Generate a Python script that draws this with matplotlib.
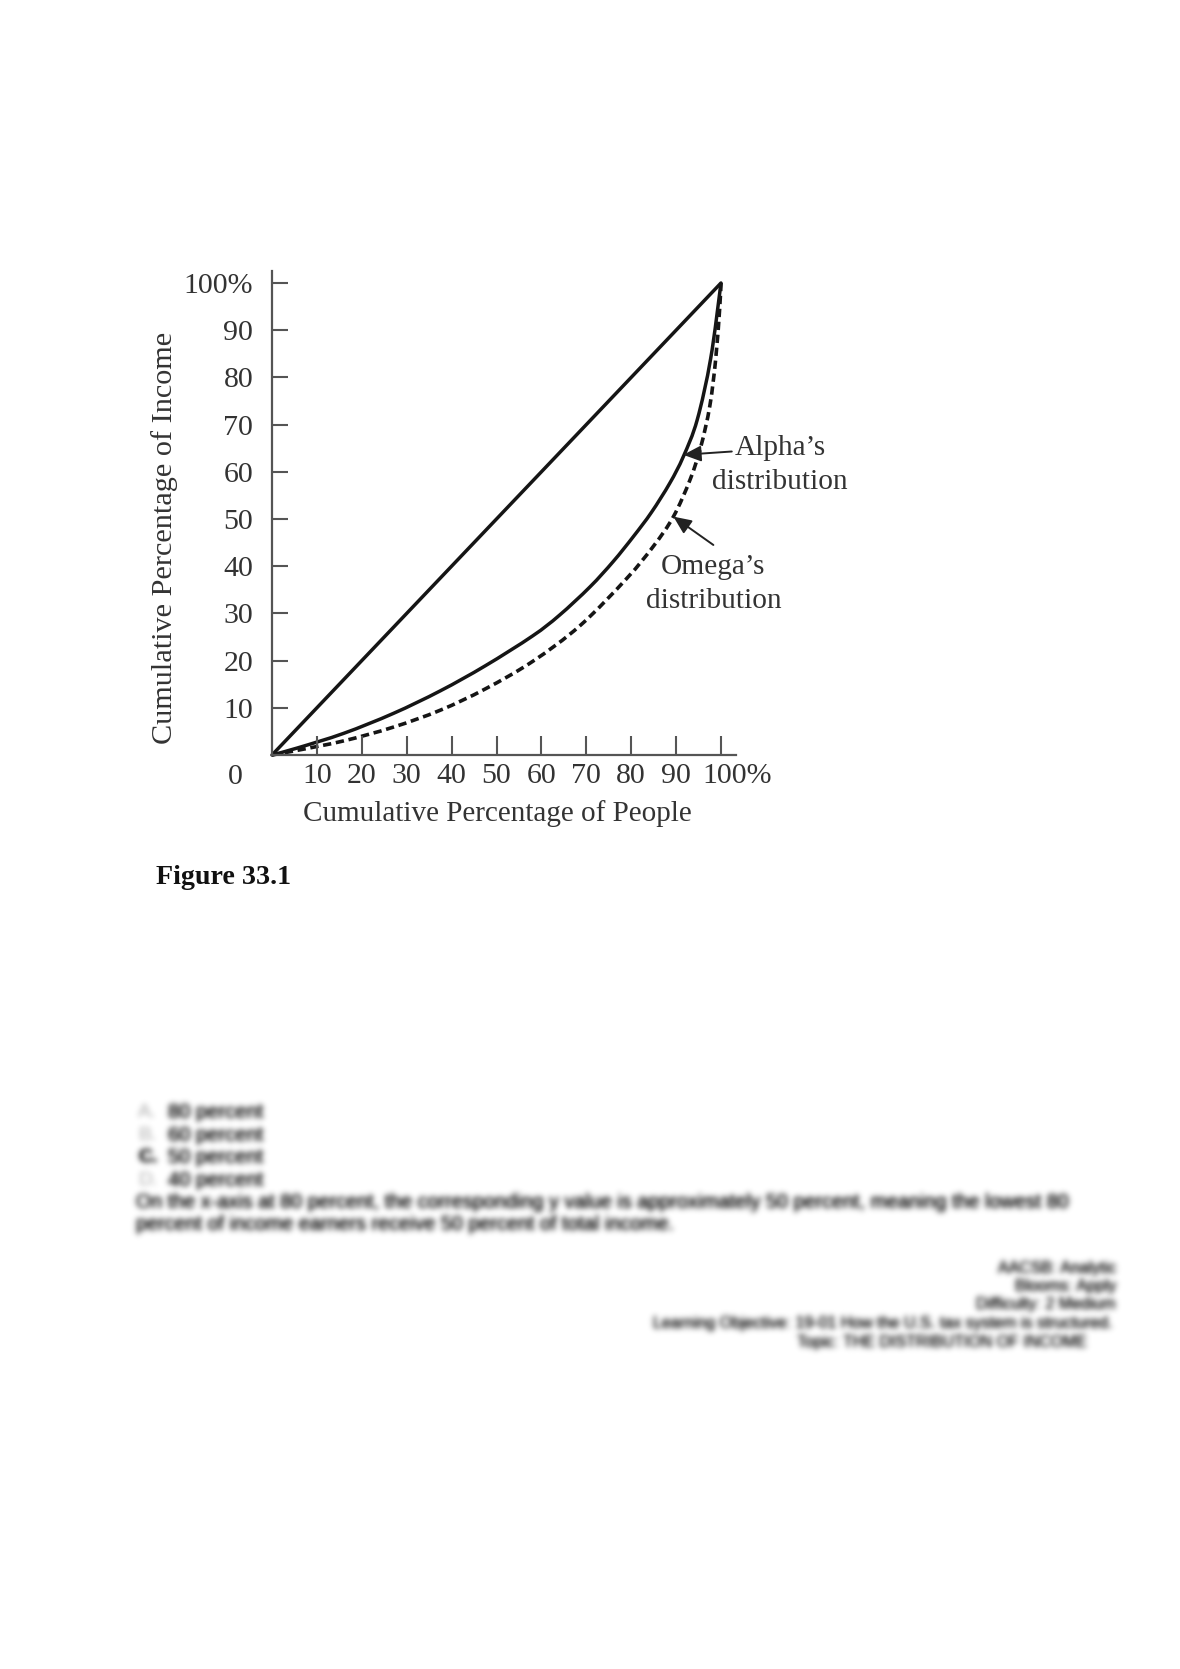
import numpy as np
import matplotlib
matplotlib.use("Agg")
import matplotlib.pyplot as plt
from matplotlib.path import Path
from matplotlib.patches import PathPatch

# ---------------- data ----------------
equal_people = [0, 100]
equal_income = [0, 100]

alpha_people = [0, 5.7, 16, 27, 37.5, 47.5, 58, 64, 70.8, 76, 80.5, 84.5, 88.6, 91.6, 94.7, 97.7, 100]
alpha_income = [0, 1.5, 4.6, 8.8, 13.6, 18.9, 25.2, 29.6, 35.6, 41.0, 46.3, 51.4, 57.6, 63.2, 71.0, 84.0, 100]

omega_people = [0, 5.7, 16, 27, 37.5, 47.5, 58, 68.6, 79, 85, 89.4, 93.1, 95.5, 97.5, 98.8, 99.7, 100]
omega_income = [0, 1.0, 3.0, 5.9, 9.5, 14.0, 19.8, 27.4, 37.4, 44.3, 50.5, 58.3, 65.3, 73.9, 83.7, 94.5, 100]

x_ticks = [10, 20, 30, 40, 50, 60, 70, 80, 90, 100]
x_tick_labels = ["10", "20", "30", "40", "50", "60", "70", "80", "90", "100%"]
y_ticks = [10, 20, 30, 40, 50, 60, 70, 80, 90, 100]
y_tick_labels = ["10", "20", "30", "40", "50", "60", "70", "80", "90", "100%"]

x_label = "Cumulative Percentage of People"
y_label = "Cumulative Percentage of Income"
alpha_label = "Alpha\u2019s\ndistribution"
omega_label = "Omega\u2019s\ndistribution"
figure_caption = "Figure 33.1"

answer_letters = ["A.", "B.", "C.", "D."]
answer_texts = ["80 percent", "60 percent", "50 percent", "40 percent"]
explanation = ["On the x-axis at 80 percent, the corresponding y value is approximately 50 percent, meaning the lowest 80",
               "percent of income earners receive 50 percent of total income."]
meta_lines = ["AACSB: Analytic", "Blooms: Apply", "Difficulty: 2 Medium",
              "Learning Objective: 19-01 How the U.S. tax system is structured.",
              "Topic: THE DISTRIBUTION OF INCOME"]

# ---------------- figure ----------------
W, H = 1180, 1669
fig = plt.figure(figsize=(W / 100, H / 100), dpi=100)
fig.patch.set_facecolor("white")

serif = ["Liberation Serif", "DejaVu Serif"]
sans = ["Liberation Sans", "DejaVu Sans"]
txt_col = "#333333"

# axes box in pixels: left 272, right 736, bottom 755, top 271
left, right, bottom, top = 272, 736, 755, 271
ax = fig.add_axes([left / W, 1 - bottom / H, (right - left) / W, (bottom - top) / H])
ax.set_xlim(0, (right - left) / 4.49)
ax.set_ylim(0, (bottom - top) / 4.72)
ax.set_facecolor("none")

for s in ["top", "right"]:
    ax.spines[s].set_visible(False)
for s in ["left", "bottom"]:
    ax.spines[s].set_color("#555555")
    ax.spines[s].set_linewidth(1.6)

ink = "#151515"


def smooth_curve(xs, ys, **kw):
    """Draw a smooth (Catmull-Rom / cubic Bezier) curve through the points."""
    p = np.column_stack([xs, ys]).astype(float)
    ext = np.vstack([p[0], p, p[-1]])
    verts = [tuple(p[0])]
    codes = [Path.MOVETO]
    for i in range(len(p) - 1):
        p0, p1, p2, p3 = ext[i], ext[i + 1], ext[i + 2], ext[i + 3]
        c1 = p1 + (p2 - p0) / 6.0
        c2 = p2 - (p3 - p1) / 6.0
        verts += [tuple(c1), tuple(c2), tuple(p2)]
        codes += [Path.CURVE4] * 3
    patch = PathPatch(Path(verts, codes), fill=False, transform=ax.transData,
                      clip_on=False, **kw)
    ax.add_patch(patch)
    return patch


ax.plot(equal_people, equal_income, color=ink, lw=2.5, solid_capstyle="round", clip_on=False)
smooth_curve(alpha_people, alpha_income, edgecolor=ink, lw=2.5, joinstyle="round")
smooth_curve(omega_people, omega_income, edgecolor=ink, lw=2.6, linestyle=(0, (2.3, 1.3)))

ax.set_xticks(x_ticks)
ax.set_xticklabels(x_tick_labels[:-1] + [""])
ax.set_yticks(y_ticks)
ax.set_yticklabels(y_tick_labels)
ax.tick_params(axis="both", direction="in", color="#555555", width=1.5,
               labelcolor=txt_col, labelsize=21.5)
ax.tick_params(axis="x", length=13.5, pad=6)
ax.tick_params(axis="y", length=11.3, pad=13.5)
for lab in ax.get_xticklabels() + ax.get_yticklabels():
    lab.set_fontfamily(serif)

# the last x label hangs to the right so that "100" sits under its tick
ax.annotate(x_tick_labels[-1], xy=(x_ticks[-1], 0), xytext=(-19, -8.3), textcoords="offset pixels",
            ha="left", va="top", fontsize=21.5, color=txt_col, family=serif, annotation_clip=False)

ax.annotate("0", xy=(0, 0), xytext=(-37, -22), textcoords="offset pixels",
            ha="center", va="center", fontsize=21.5, color=txt_col, family=serif)

ax.set_xlabel(x_label, fontsize=21, color=txt_col, family=serif, va="center")
ax.xaxis.set_label_coords((497 - left) / (right - left), (bottom - 814) / (bottom - top))
ax.set_ylabel(y_label, fontsize=21.8, color=txt_col, family=serif, va="center")
ax.yaxis.set_label_coords((165 - left) / (right - left), (bottom - 538) / (bottom - top))

arrow_kw = dict(arrowstyle="-|>,head_length=0.45,head_width=0.2", color="#222222",
                lw=1.4, mutation_scale=24, shrinkA=0, shrinkB=0)
ax.annotate("", xy=(91.6, 63.6), xytext=(102.4, 64.3), arrowprops=arrow_kw, annotation_clip=False)
ax.annotate("", xy=(89.4, 50.5), xytext=(98.3, 44.5), arrowprops=arrow_kw, annotation_clip=False)

ax.text(113.1, 61.4, alpha_label, ha="center", va="center", fontsize=21.2,
        color=txt_col, family=serif, linespacing=1.4, clip_on=False)
ax.text(98.3, 36.3, omega_label, ha="center", va="center", fontsize=21.2,
        color=txt_col, family=serif, linespacing=1.4, clip_on=False)

fig.text(156 / W, 1 - 878 / H, figure_caption, ha="left", va="center",
         fontsize=20.2, fontweight="bold", color="#111111", family=serif)


# ---------------- blurred question text ----------------
def make_blur(sigma, strength):
    pad = int(np.ceil(3 * sigma))
    k = np.exp(-0.5 * (np.arange(-pad, pad + 1) / sigma) ** 2)
    k /= k.sum()

    def filt(im, dpi):
        P = 2 * pad
        a = np.pad(im[..., 3], P)
        b = np.zeros_like(a)
        for i, w in enumerate(k):
            b += w * np.roll(a, i - pad, axis=1)
        c = np.zeros_like(b)
        for i, w in enumerate(k):
            c += w * np.roll(b, i - pad, axis=0)
        out = np.zeros(c.shape + (4,))
        out[..., 3] = np.clip(c * strength, 0, 1)
        return out, -P, -P
    return filt


blur_main = make_blur(3.0, 1.35)
blur_light = make_blur(3.0, 0.35)

ans_y = [1112, 1135, 1157, 1180]
for i, (yy, letter, txt) in enumerate(zip(ans_y, answer_letters, answer_texts)):
    bold = (i == 2)
    t1 = fig.text(138 / W, 1 - yy / H, letter, ha="left", va="center", fontsize=14,
                  family=sans, color="black", fontweight="bold" if bold else "normal")
    t1.set_agg_filter(blur_main if bold else blur_light)
    t2 = fig.text(168 / W, 1 - yy / H, txt, ha="left", va="center", fontsize=14.5,
                  family=sans, color="black")
    t2.set_agg_filter(blur_main)

for yy, txt in zip([1203, 1225], explanation):
    t = fig.text(136 / W, 1 - yy / H, txt, ha="left", va="center", fontsize=14.2,
                 family=sans, color="black")
    t.set_agg_filter(blur_main)

meta_y = [1268, 1286.5, 1305, 1323.5, 1342]
meta_right = [1116, 1116, 1116, 1113, 1087]
for yy, xr, txt in zip(meta_y, meta_right, meta_lines):
    t = fig.text(xr / W, 1 - yy / H, txt, ha="right", va="center", fontsize=11.5,
                 family=sans, color="black")
    t.set_agg_filter(blur_main)

fig.savefig("out.png", dpi=100, facecolor="white")
